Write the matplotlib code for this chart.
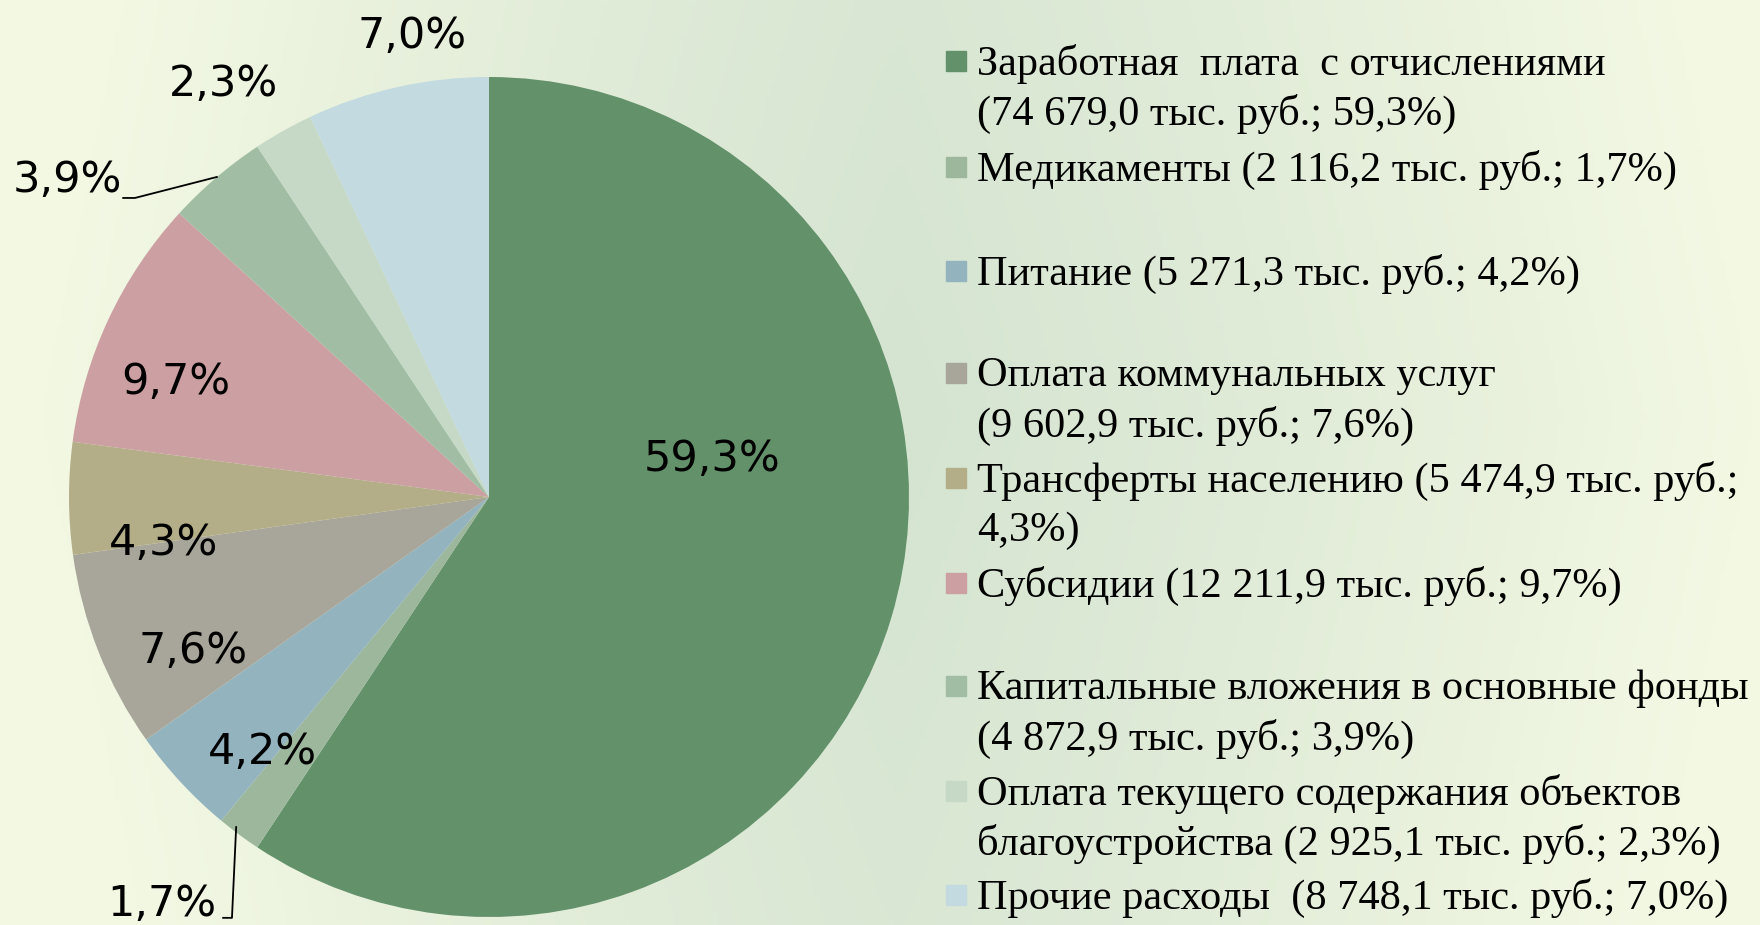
import numpy as np
import matplotlib
matplotlib.use("Agg")
import matplotlib.pyplot as plt
from matplotlib import font_manager
from matplotlib.patches import Rectangle

# budget structure, thousands of rubles
categories = [
    "Заработная  плата  с отчислениями",
    "Медикаменты",
    "Питание",
    "Оплата коммунальных услуг",
    "Трансферты населению",
    "Субсидии",
    "Капитальные вложения в основные фонды",
    "Оплата текущего содержания объектов благоустройства",
    "Прочие расходы",
]
amounts = [74679.0, 2116.2, 5271.3, 9602.9, 5474.9, 12211.9, 4872.9, 2925.1, 8748.1]
shares = [59.3, 1.7, 4.2, 7.6, 4.3, 9.7, 3.9, 2.3, 7.0]
legend_texts = [
    "Заработная  плата  с отчислениями\n(74 679,0 тыс. руб.; 59,3%)",
    "Медикаменты (2 116,2 тыс. руб.; 1,7%)",
    "Питание (5 271,3 тыс. руб.; 4,2%)",
    "Оплата коммунальных услуг\n(9 602,9 тыс. руб.; 7,6%)",
    "Трансферты населению (5 474,9 тыс. руб.;\n4,3%)",
    "Субсидии (12 211,9 тыс. руб.; 9,7%)",
    "Капитальные вложения в основные фонды\n(4 872,9 тыс. руб.; 3,9%)",
    "Оплата текущего содержания объектов\nблагоустройства (2 925,1 тыс. руб.; 2,3%)",
    "Прочие расходы  (8 748,1 тыс. руб.; 7,0%)",
]
colors = ["#62916a", "#9db79d", "#93b3bf", "#a8a69a", "#b4ae88",
          "#cca0a2", "#a1bea4", "#c5d9c6", "#c2dae0"]

# label placement (data coords, pie radius = 1)
label_pos = [(0.53, 0.09), (-0.648, -0.970), (-0.54, -0.607), (-0.705, -0.367),
             (-0.776, -0.11), (-0.745, 0.274), (-1.005, 0.755), (-0.631, 0.983),
             (-0.183, 1.098)]
legend_y = [64, 170, 274, 376, 481, 586, 689, 794, 898]  # px from top, first line
line_step = 50

names = {f.name for f in font_manager.fontManager.ttflist}
label_font = "Liberation Sans Narrow" if "Liberation Sans Narrow" in names else "DejaVu Sans"

W, H = 1760, 925
fig = plt.figure(figsize=(W / 100, H / 100), dpi=100)

# background gradient
xx, yy = np.meshgrid(np.linspace(0, 1, 400), np.linspace(0, 1, 200))
t = np.clip(np.abs(xx - 0.51) / 0.49, 0, 1) ** 1.2
t = np.clip(t + 0.25 * np.abs(yy - 0.45), 0, 1)
dark = np.array([0.835, 0.895, 0.820])
light = np.array([0.953, 0.973, 0.890])
bg = dark[None, None, :] * (1 - t[..., None]) + light[None, None, :] * t[..., None]
bax = fig.add_axes([0, 0, 1, 1])
bax.imshow(bg, aspect="auto", extent=[0, 1, 0, 1])
bax.axis("off")

cx, cy, r = 489, 497, 420
ax = fig.add_axes([0, 0, 1, 1])
ax.patch.set_alpha(0)
ax.pie(shares, colors=colors, startangle=90, counterclock=False, radius=1,
       wedgeprops=dict(linewidth=0))
ax.set_xlim(-cx / r, (W - cx) / r)
ax.set_ylim(-(H - cy) / r, cy / r)
ax.set_aspect("auto")
ax.axis("off")

for i, (s, (lx, ly)) in enumerate(zip(shares, label_pos)):
    txt = f"{s:.1f}%".replace(".", ",")
    ha = "right" if i == 1 else "center"
    ax.text(lx, ly, txt, ha=ha, va="center", fontsize=31, family=label_font,
            color="black")

# leader lines
ax.plot([-0.871, -0.843, -0.648], [0.712, 0.712, 0.762], color="black", lw=1.3)
ax.plot([-0.602, -0.612, -0.633], [-0.786, -1.002, -1.002], color="black", lw=1.3)

# legend
for txt, col, y in zip(legend_texts, colors, legend_y):
    fig.patches.append(Rectangle((946 / W, 1 - (y + 7) / H), 20 / W, 20 / H,
                                 transform=fig.transFigure, color=col))
    for k, line in enumerate(txt.split("\n")):
        fig.text(977 / W, 1 - (y + k * line_step) / H, line, ha="left",
                 va="center", fontsize=30.5, family="Liberation Serif")

fig.savefig("out.png", dpi=100)
